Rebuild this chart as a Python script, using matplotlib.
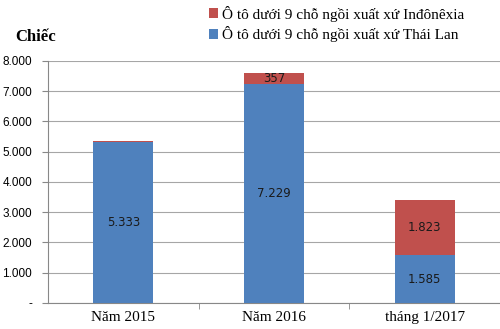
import matplotlib.pyplot as plt

categories = ['Năm 2015', 'Năm 2016', 'tháng 1/2017']
thai = [5333, 7229, 1585]
indo = [12, 357, 1823]
indo_labels = ['', '357', '1.823']
thai_labels = ['5.333', '7.229', '1.585']
yticks = [0, 1000, 2000, 3000, 4000, 5000, 6000, 7000, 8000]
ytick_labels = ['-', '1.000', '2.000', '3.000', '4.000', '5.000', '6.000', '7.000', '8.000']

blue = '#4F81BD'
red = '#C0504D'

fig = plt.figure(figsize=(5, 3.29), dpi=100)
ax = fig.add_axes([0.096, 0.079, 0.904, 0.736])

x = range(len(categories))
b1 = ax.bar(x, thai, width=0.4, color=blue, label='Ô tô dưới 9 chỗ ngồi xuất xứ Thái Lan', zorder=3)
b2 = ax.bar(x, indo, width=0.4, bottom=thai, color=red, label='Ô tô dưới 9 chỗ ngồi xuất xứ Inđônêxia', zorder=3)

for i in x:
    ax.text(i, thai[i] / 2, thai_labels[i], ha='center', va='center', fontsize=8.5,
            family='DejaVu Sans', color='#1a1a1a', zorder=4)
    if indo_labels[i]:
        ax.text(i, thai[i] + indo[i] / 2, indo_labels[i], ha='center', va='center', fontsize=8.5,
                family='DejaVu Sans', color='#1a1a1a', zorder=4)

ax.set_xlim(-0.5, 2.5)
ax.set_ylim(0, 8000)
ax.set_yticks(yticks)
ax.set_yticklabels(ytick_labels, family='Liberation Sans', fontsize=8.5)
ax.set_xticks(list(x))
ax.set_xticklabels(categories, family='Liberation Serif', fontsize=11)
ax.set_xticks([0.5, 1.5], minor=True)
ax.tick_params(axis='x', which='major', length=0, pad=6)
ax.tick_params(axis='x', which='minor', length=4, color='#888888', direction='out')
ax.tick_params(axis='y', length=4, color='#888888', pad=7.5)

ax.grid(axis='y', color='#a6a6a6', linewidth=0.8, zorder=0)
for s in ['top', 'right']:
    ax.spines[s].set_visible(False)
for s in ['left', 'bottom']:
    ax.spines[s].set_color('#888888')
    ax.spines[s].set_linewidth(0.8)

handles = [b2, b1]
ax.legend(handles, [h.get_label() for h in handles], loc='upper left',
          bbox_to_anchor=(0.39, 1.025), bbox_transform=fig.transFigure,
          frameon=False, prop={'family': 'Liberation Serif', 'size': 11},
          handlelength=0.6, handleheight=0.6, handletextpad=0.3, labelspacing=0.3)

fig.text(0.03, 0.875, 'Chiếc', family='Liberation Serif', fontweight='bold', fontsize=12)

fig.savefig('out.png', dpi=100)
